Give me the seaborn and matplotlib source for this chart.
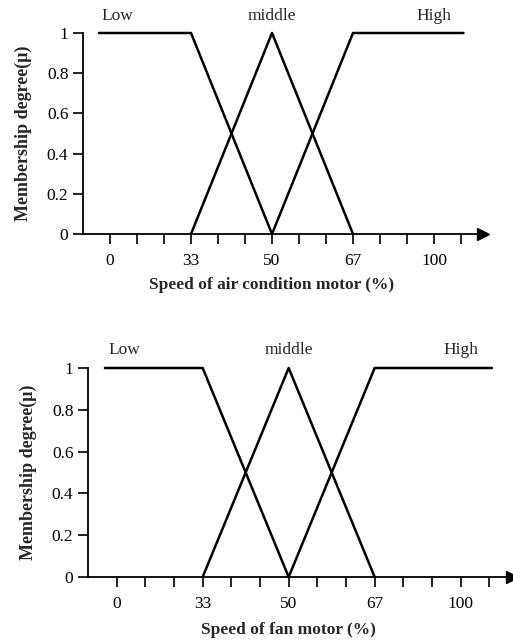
import numpy as np
import pandas as pd
import matplotlib
matplotlib.use("Agg")
import matplotlib.pyplot as plt
import seaborn as sns

# -------- Data --------
# speed axis is drawn with equal spacing between the labelled values
speed_ticks = [0, 33, 50, 67, 100]
speed_labels = ["0", "33", "50", "67", "100"]
mu_ticks = [0, 0.2, 0.4, 0.6, 0.8, 1]
mu_labels = ["0", "0.2", "0.4", "0.6", "0.8", "1"]

set_names = ["Low", "middle", "High"]
low_speed = [-4.5, 33, 50]
low_mu = [1, 1, 0]
mid_speed = [33, 50, 67]
mid_mu = [0, 1, 0]
high_speed = [50, 67, 112]
high_mu = [0, 1, 1]

name_speed = [3, 50, 100]
x_titles = ["Speed of air condition motor (%)", "Speed of fan motor (%)"]
y_title = "Membership degree(\u03bc)"

df = pd.concat([
    pd.DataFrame({"set": set_names[0], "speed": low_speed, "mu": low_mu}),
    pd.DataFrame({"set": set_names[1], "speed": mid_speed, "mu": mid_mu}),
    pd.DataFrame({"set": set_names[2], "speed": high_speed, "mu": high_mu}),
], ignore_index=True)

# -------- piecewise scale: labelled values equally spaced --------
idx = np.arange(len(speed_ticks), dtype=float)
stops = np.array(speed_ticks, dtype=float)


def fwd(x):
    x = np.asarray(x, dtype=float)
    return np.where(x < stops[0], (x - stops[0]) / 33,
                    np.where(x > stops[-1], idx[-1] + (x - stops[-1]) / 33,
                             np.interp(x, stops, idx)))


def inv(p):
    p = np.asarray(p, dtype=float)
    return np.where(p < idx[0], stops[0] + p * 33,
                    np.where(p > idx[-1], stops[-1] + (p - idx[-1]) * 33,
                             np.interp(p, idx, stops)))


sns.set_style("ticks")
plt.rcParams["font.family"] = ["Liberation Serif", "DejaVu Serif"]

fig = plt.figure(figsize=(5.13, 6.43), dpi=100)
W, H = 513, 643
# (left px, y0 px, px per unit, height px)
layouts = [(83, 234, 81, 201), (88, 577, 86, 209)]
x_lo, x_hi = -1 / 3, 4.6

for (left, y0, unit, hgt), title in zip(layouts, x_titles):
    width = (x_hi - x_lo) * unit
    ax = fig.add_axes([left / W, (H - y0) / H, width / W, hgt / H])
    ax.set_xscale("function", functions=(fwd, inv))

    sns.lineplot(data=df, x="speed", y="mu", units="set", estimator=None,
                 sort=False, color="black", linewidth=1.8, ax=ax)
    for ln in ax.lines:
        ln.set_clip_on(False)

    ax.set_xlim(float(inv(x_lo)), float(inv(x_hi)))
    ax.set_ylim(0, 1)

    ax.set_xticks(speed_ticks, speed_labels)
    minor = [float(inv(k / 3)) for k in range(14) if k % 3 != 0]
    ax.set_xticks(minor, minor=True)
    ax.set_yticks(mu_ticks, mu_labels)

    ax.tick_params(axis="both", which="both", direction="out", length=7,
                   width=1.2, color="black", labelsize=12.5, labelcolor="black")
    ax.tick_params(axis="x", which="both", pad=7)
    ax.tick_params(axis="y", pad=3.5)

    for side in ["top", "right"]:
        ax.spines[side].set_visible(False)
    ax.spines["left"].set_bounds(0, 1)
    for side in ["left", "bottom"]:
        ax.spines[side].set_linewidth(1.3)
        ax.spines[side].set_color("black")
    ax.plot([1], [0], marker=">", markersize=9, color="black",
            transform=ax.transAxes, clip_on=False)

    for name, sp in zip(set_names, name_speed):
        ax.text(sp, 1.085, name, ha="center", va="center", fontsize=12.5)

    ax.set_xlabel(title, fontsize=12.5, fontweight="bold")
    ax.xaxis.label.set_va("center")
    cx = (float(fwd(50)) - x_lo) / (x_hi - x_lo)
    ax.xaxis.set_label_coords(cx, -0.254)
    ax.set_ylabel(y_title, fontsize=13, fontweight="bold")
    ax.yaxis.label.set_va("center")
    ax.yaxis.set_label_coords(-60 / width, 0.5)

fig.savefig("out.png", dpi=100)
